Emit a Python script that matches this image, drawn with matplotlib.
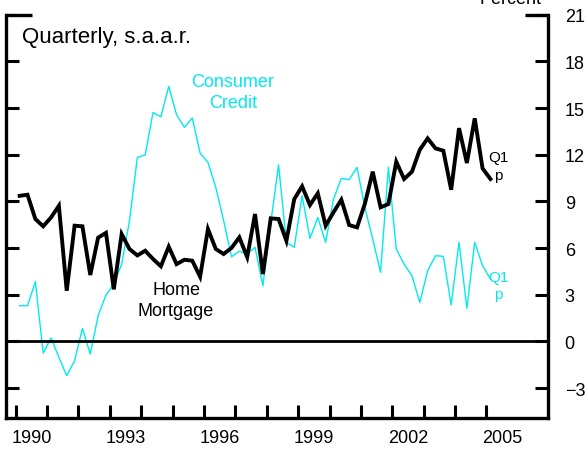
import numpy as np
import matplotlib.pyplot as plt
from matplotlib.ticker import FixedLocator, NullFormatter, FixedFormatter

plt.rcParams['font.family'] = ['Liberation Sans', 'DejaVu Sans']

# quarterly growth, s.a.a.r., 1990Q1 - 2005Q1
home_mortgage = [9.36, 9.43, 7.87, 7.40, 7.97, 8.72, 3.26, 7.44, 7.40, 4.27,
                 6.67, 6.98, 3.35, 6.90, 5.94, 5.53, 5.83, 5.30, 4.83, 6.09,
                 4.97, 5.25, 5.19, 4.16, 7.22, 5.94, 5.62, 6.01, 6.69, 5.42,
                 8.19, 4.33, 7.91, 7.87, 6.47, 9.15, 9.97, 8.77, 9.52, 7.44,
                 8.30, 9.11, 7.48, 7.33, 8.85, 10.91, 8.62, 8.83, 11.55, 10.44,
                 10.91, 12.32, 13.05, 12.41, 12.26, 9.75, 13.71, 11.47, 14.34, 11.12,
                 10.44]
consumer_credit = [2.30, 2.30, 3.84, -0.75, 0.22, -1.02, -2.20, -1.24, 0.84, -0.81,
                   1.65, 2.98, 3.69, 4.97, 7.76, 11.83, 11.98, 14.72, 14.44, 16.39,
                   14.57, 13.76, 14.36, 12.11, 11.51, 9.90, 7.76, 5.44, 5.80, 5.62,
                   6.05, 3.58, 7.60, 11.34, 6.37, 6.05, 9.37, 6.62, 7.97, 6.37,
                   9.15, 10.48, 10.40, 11.19, 8.60, 6.58, 4.44, 11.19, 5.94, 4.97,
                   4.22, 2.51, 4.54, 5.51, 5.47, 2.34, 6.37, 2.13, 6.37, 4.87,
                   4.01]
first_year = 1990
years = list(range(1990, 2006))
year_labels = ['1990', '1993', '1996', '1999', '2002', '2005']
yticks = [-3, 0, 3, 6, 9, 12, 15, 18, 21]

CYAN = '#00eaf0'

# quarters plotted at mid-quarter
t = first_year + (np.arange(len(home_mortgage)) + 0.5) / 4

fig = plt.figure(figsize=(5.85, 4.52), dpi=100)
ax = fig.add_axes([6 / 585, 33 / 452, 542 / 585, 403.3 / 452])

ax.plot(t, consumer_credit, color=CYAN, lw=1.0)
ax.plot(t, home_mortgage, color='black', lw=2.8, solid_joinstyle='miter')
ax.axhline(0, color='black', lw=2.0)

ax.set_xlim(1989.69, 2006.96)
ax.set_ylim(-4.92, 21)

for s in ['left', 'right', 'bottom']:
    ax.spines[s].set_linewidth(2.4)
ax.spines['top'].set_visible(False)

# x axis: ticks at year boundaries, labels centred in the year
ax.xaxis.set_major_locator(FixedLocator(years))
ax.xaxis.set_major_formatter(NullFormatter())
ax.xaxis.set_minor_locator(FixedLocator([int(y) + 0.5 for y in year_labels]))
ax.xaxis.set_minor_formatter(FixedFormatter(year_labels))
ax.tick_params(axis='x', which='major', direction='in', length=9.5, width=2.2)
ax.tick_params(axis='x', which='minor', length=0, labelsize=13, pad=8)

ax.set_yticks(yticks)
ax.tick_params(axis='y', direction='in', length=9.5, width=2.2,
               left=True, right=True, labelleft=False, labelright=True,
               labelsize=13, pad=11)
for lab in ax.get_yticklabels():
    lab.set_horizontalalignment('left')
ax.yaxis.set_tick_params(pad=12)

# longer top ticks on both sides
ax.plot([0, 0.048], [21, 21], color='black', lw=2.4,
        transform=ax.get_yaxis_transform(), clip_on=False, solid_capstyle='butt')
ax.plot([0.958, 1], [21, 21], color='black', lw=2.4,
        transform=ax.get_yaxis_transform(), clip_on=False, solid_capstyle='butt')

ax.text(2005.77, 21.75, 'Percent', ha='center', va='baseline', fontsize=13, clip_on=False)
ax.text(1990.19, 19.24, 'Quarterly, s.a.a.r.', ha='left', va='baseline', fontsize=16)
ax.text(1996.92, 16.41, 'Consumer', ha='center', va='baseline', fontsize=13, color=CYAN)
ax.text(1996.92, 15.08, 'Credit', ha='center', va='baseline', fontsize=13, color=CYAN)
ax.text(1995.11, 3.05, 'Home', ha='center', va='baseline', fontsize=13)
ax.text(1995.11, 1.70, 'Mortgage', ha='center', va='baseline', fontsize=13)
ax.text(2005.37, 11.57, 'Q1', ha='center', va='baseline', fontsize=11)
ax.text(2005.37, 10.45, 'p', ha='center', va='baseline', fontsize=11)
ax.text(2005.37, 3.90, 'Q1', ha='center', va='baseline', fontsize=11, color=CYAN)
ax.text(2005.37, 2.78, 'p', ha='center', va='baseline', fontsize=11, color=CYAN)

fig.savefig('out.png', dpi=100)
